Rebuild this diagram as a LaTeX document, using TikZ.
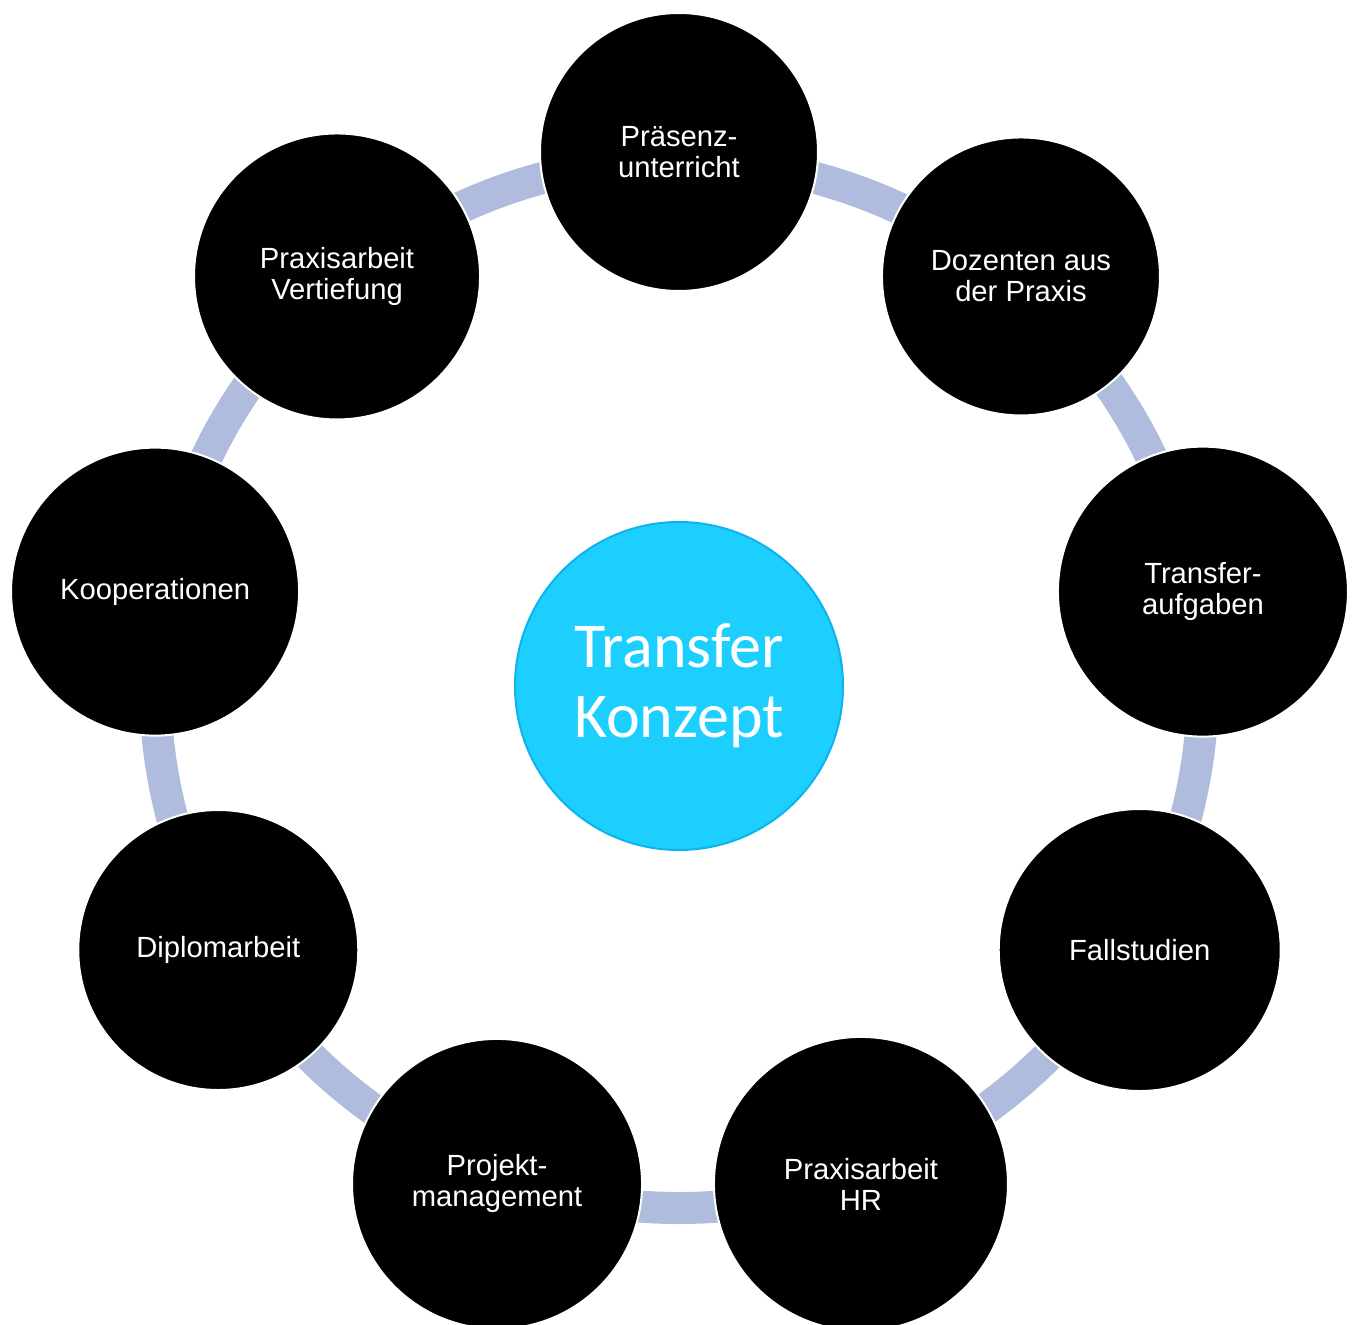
\documentclass[tikz,border=0pt]{standalone}
\usepackage{fontspec}
\setmainfont{Liberation Sans}
\newfontfamily\hubfont{Carlito}
\definecolor{ringblue}{RGB}{176,188,222}
\definecolor{hubcyan}{RGB}{28,207,255}
\definecolor{hubline}{RGB}{14,178,236}

\begin{document}
\begin{tikzpicture}
	[
	x = {(0.5pt, 0pt)},
	y = {(0pt, 0.5pt)},
	ring/.style = {color = ringblue, line width = 16pt},
	hub/.style = {circle, fill = hubcyan, draw = hubline, line width = 1pt, minimum size = 164pt, inner sep = 0pt, text = white, align = center, font = \hubfont\fontsize{32}{35}\selectfont},
	item/.style = {circle, fill = black, draw = white, line width = 1pt, inner sep = 0pt, text = white, align = center, font = \fontsize{14.6}{15.5}\selectfont}]
	
	\useasboundingbox (-679, -640) rectangle (674, 684);
	
	\node[hub] (hub) at (0, -2) {Transfer\\Konzept};
	
	%% Drawing the ring behind the circles
	
	\draw[ring] (0, 0) circle [radius = 262pt];
	
	%% Drawing the circles on the ring
	
	\node[item, minimum size = 139pt] (praesenz) at (90:532) {Präsenz-\\unterricht};
	\node[item, minimum size = 139pt] (dozenten) at (50:532) {Dozenten aus\\der Praxis};
	\node[item, minimum size = 145pt] (transfer) at (10:532) {Transfer-\\aufgaben};
	\node[item, minimum size = 141pt] (fall) at (-30:532) {Fallstudien};
	\node[item, minimum size = 147pt] (praxishr) at (-70:532) {Praxisarbeit\\HR};
	\node[item, minimum size = 145pt] (projekt) at (-110:532) {Projekt-\\management};
	\node[item, minimum size = 140pt] (diplom) at (-150:532) {Diplomarbeit};
	\node[item, minimum size = 144pt] (koop) at (170:532) {Kooperationen};
	\node[item, minimum size = 143pt] (vertiefung) at (130:532) {Praxisarbeit\\Vertiefung};
\end{tikzpicture}
\end{document}
